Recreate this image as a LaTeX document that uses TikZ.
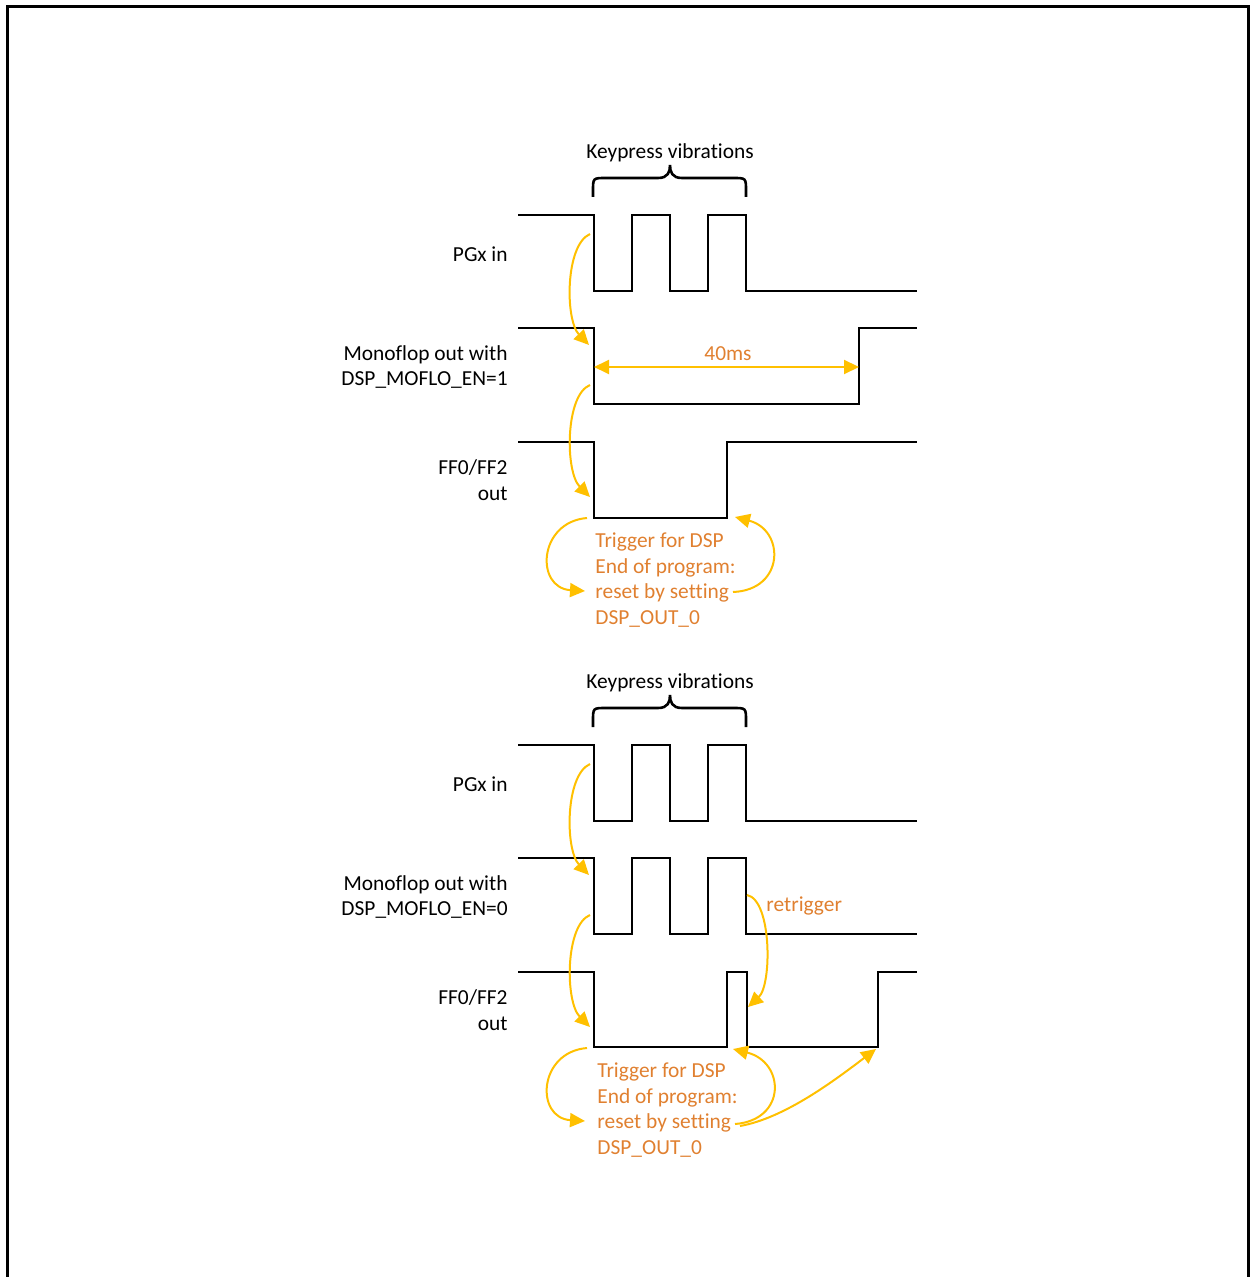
\documentclass[tikz,border=0pt]{standalone}
\usepackage{fontspec}
\setmainfont{Carlito}[Ligatures={NoCommon}]
\usetikzlibrary{arrows.meta}
\definecolor{arrowyellow}{RGB}{255,192,0}
\definecolor{textorange}{RGB}{224,128,48}
\begin{document}
\begin{tikzpicture}[x=0.5pt,y=-0.5pt,
  wave/.style={draw=black,line width=1.3pt,line join=miter},
  frame/.style={draw=black,line width=1.5pt},
  yarrow/.style={draw=arrowyellow,line width=1pt,-{Triangle[length=7.5pt,width=7pt]}},
  yarrowboth/.style={draw=arrowyellow,line width=1pt,{Triangle[length=7.5pt,width=7pt]}-{Triangle[length=7.5pt,width=7pt]}},
  lbl/.style={font=\fontsize{10.7}{12.75}\selectfont,inner sep=0pt,text=black},
  olbl/.style={font=\fontsize{10.7}{12.75}\selectfont,inner sep=0pt,text=textorange},
  bracestyle/.style={draw=black,line width=1.3pt}]
\useasboundingbox (0,0) rectangle (1250,1277);
\path[frame] (7,1280) -- (7,7) -- (1248,7) -- (1248,1280);

% ---------------- top panel ----------------
\node[lbl,anchor=center] (kv1) at (670,153) {Keypress vibrations};
\path[bracestyle] (593,197) -- (593,191) .. controls (593,178) .. (606,178) -- (658,178)
  .. controls (668,178) and (670,172) .. (670,165)
  .. controls (670,172) and (672,178) .. (682,178) -- (733,178)
  .. controls (746,178) .. (746,191) -- (746,197);

\node[lbl,anchor=east] (pgx1) at (508,254) {PGx in};
\node[lbl,anchor=east,align=right] (mf1) at (508,367) {Monoflop out with\\DSP\_MOFLO\_EN=1};
\node[lbl,anchor=east,align=right] (ff1) at (508,480) {FF0/FF2\\out};

\path[wave] (518,215) -- (594,215) -- (594,291) -- (632,291) -- (632,215) -- (670,215) -- (670,291)
  -- (708,291) -- (708,215) -- (746,215) -- (746,291) -- (917,291);
\path[wave] (518,328) -- (594,328) -- (594,404) -- (859,404) -- (859,328) -- (917,328);
\path[wave] (518,442) -- (594,442) -- (594,518) -- (727,518) -- (727,442) -- (917,442);

\coordinate (a1s) at (590,234);
\coordinate (a1e) at (589,345);
\coordinate (a2s) at (590,385);
\coordinate (a2e) at (590,497);
\coordinate (l1s) at (587,518);
\coordinate (l1e) at (585,591);
\coordinate (r1s) at (733,592);
\coordinate (r1e) at (735,517);
\coordinate (m40a) at (594,367);
\coordinate (m40b) at (859,367);

\draw[yarrow] (a1s) .. controls (565,245) and (565,320) .. (a1e);
\draw[yarrow] (a2s) .. controls (565,395) and (565,472) .. (a2e);
\draw[yarrow] (l1s) .. controls (538,522) and (535,588) .. (l1e);
\draw[yarrow] (r1s) .. controls (785,590) and (785,530) .. (r1e);
\draw[yarrowboth] (m40a) -- (m40b);
\node[olbl] (ms40) at (728,354) {40ms};
\node[olbl,anchor=west,align=left] (trig1) at (595,580) {Trigger for DSP\\End of program:\\reset by setting\\DSP\_OUT\_0};

% ---------------- bottom panel ----------------
\node[lbl,anchor=center] (kv2) at (670,683) {Keypress vibrations};
\path[bracestyle] (593,727) -- (593,721) .. controls (593,708) .. (606,708) -- (658,708)
  .. controls (668,708) and (670,702) .. (670,695)
  .. controls (670,702) and (672,708) .. (682,708) -- (733,708)
  .. controls (746,708) .. (746,721) -- (746,727);

\node[lbl,anchor=east] (pgx2) at (508,784) {PGx in};
\node[lbl,anchor=east,align=right] (mf2) at (508,897) {Monoflop out with\\DSP\_MOFLO\_EN=0};
\node[lbl,anchor=east,align=right] (ff2) at (508,1010) {FF0/FF2\\out};

\path[wave] (518,745) -- (594,745) -- (594,821) -- (632,821) -- (632,745) -- (670,745) -- (670,821)
  -- (708,821) -- (708,745) -- (746,745) -- (746,821) -- (917,821);
\path[wave] (518,858) -- (594,858) -- (594,934) -- (632,934) -- (632,858) -- (670,858) -- (670,934)
  -- (708,934) -- (708,858) -- (746,858) -- (746,934) -- (917,934);
\path[wave] (518,972) -- (594,972) -- (594,1047) -- (727,1047) -- (727,972) -- (747,972) -- (747,1047)
  -- (878,1047) -- (878,972) -- (917,972);

\coordinate (b1s) at (590,764);
\coordinate (b1e) at (589,875);
\coordinate (b2s) at (590,915);
\coordinate (b2e) at (590,1027);
\coordinate (l2s) at (587,1048);
\coordinate (l2e) at (585,1121);
\coordinate (r2s) at (735,1124);
\coordinate (r2e) at (733,1049);
\coordinate (x2s) at (740,1126);
\coordinate (x2e) at (876,1049);
\coordinate (rts) at (747,895);
\coordinate (rte) at (748,1007);

\draw[yarrow] (b1s) .. controls (565,775) and (565,850) .. (b1e);
\draw[yarrow] (b2s) .. controls (565,925) and (565,1002) .. (b2e);
\draw[yarrow] (l2s) .. controls (538,1052) and (535,1118) .. (l2e);
\draw[yarrow] (r2s) .. controls (787,1120) and (785,1062) .. (r2e);
\draw[yarrow] (x2s) .. controls (785,1118) and (835,1080) .. (x2e);
\draw[yarrow] (rts) .. controls (772,900) and (772,985) .. (rte);
\node[olbl,anchor=west] (retrig) at (766,906) {retrigger};
\node[olbl,anchor=west,align=left] (trig2) at (597,1110) {Trigger for DSP\\End of program:\\reset by setting\\DSP\_OUT\_0};
\end{tikzpicture}
\end{document}
